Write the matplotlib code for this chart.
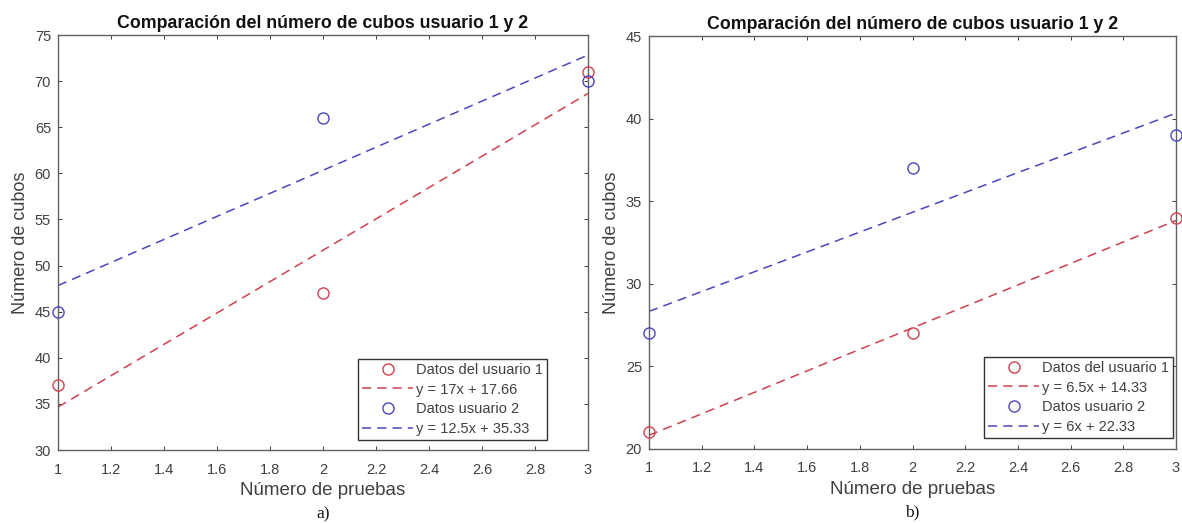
import matplotlib
matplotlib.use("Agg")
import matplotlib.pyplot as plt
import numpy as np

plt.rcParams['font.family'] = ['Liberation Sans', 'DejaVu Sans']

x_trials = [1, 2, 3]
a_user1 = [37, 47, 71]
a_user2 = [45, 66, 70]
a_fit1 = (17, 17.66)
a_fit2 = (12.5, 35.33)
b_user1 = [21, 27, 34]
b_user2 = [27, 37, 39]
b_fit1 = (6.5, 14.33)
b_fit2 = (6, 22.33)

a_labels = ["Datos del usuario 1", "y = 17x + 17.66", "Datos usuario 2", "y = 12.5x + 35.33"]
b_labels = ["Datos del usuario 1", "y = 6.5x + 14.33", "Datos usuario 2", "y = 6x + 22.33"]
xticks = [1, 1.2, 1.4, 1.6, 1.8, 2, 2.2, 2.4, 2.6, 2.8, 3]
xtick_labels = ["1", "1.2", "1.4", "1.6", "1.8", "2", "2.2", "2.4", "2.6", "2.8", "3"]
a_yticks = [30, 35, 40, 45, 50, 55, 60, 65, 70, 75]
b_yticks = [20, 25, 30, 35, 40, 45]

RED = '#d0404f'
BLUE = '#4a45c0'
TXT = '#404040'

W, H = 1182, 523
fig = plt.figure(figsize=(W / 100, H / 100), dpi=100)
ax1 = fig.add_axes([58 / W, 1 - 450 / H, (588 - 58) / W, (450 - 35) / H])
ax2 = fig.add_axes([649 / W, 1 - 449 / H, (1176 - 649) / W, (449 - 36) / H])

def draw(ax, u1, u2, f1, f2, labels, yticks, ylim, sub, leg_corner):
    xs = np.array([1.0, 3.0])
    ax.plot(x_trials, u1, 'o', mfc='none', mec=RED, ms=8, mew=1.0, label=labels[0], clip_on=False, zorder=3)
    ax.plot(xs, f1[0] * xs + f1[1], '--', color=RED, lw=1.1, dashes=(6, 4), label=labels[1])
    ax.plot(x_trials, u2, 'o', mfc='none', mec=BLUE, ms=8, mew=1.0, label=labels[2], clip_on=False, zorder=3)
    ax.plot(xs, f2[0] * xs + f2[1], '--', color=BLUE, lw=1.1, dashes=(6, 4), label=labels[3])
    ax.set_xlim(1, 3)
    ax.set_ylim(*ylim)
    ax.set_xticks(xticks)
    ax.set_xticklabels(xtick_labels)
    ax.set_yticks(yticks)
    ax.tick_params(direction='in', top=True, right=True, labelsize=10.5, colors=TXT, length=3, width=0.7)
    ax.tick_params(axis='x', pad=9)
    ax.tick_params(axis='y', pad=5)
    for s in ax.spines.values():
        s.set_color('#606060')
        s.set_linewidth(1.0)
    ax.set_title("Comparación del número de cubos usuario 1 y 2", fontsize=12.8, fontweight='bold', color='#111111', pad=5)
    ax.set_xlabel("Número de pruebas", fontsize=13.5, color=TXT, labelpad=4)
    ax.set_ylabel("Número de cubos", fontsize=13, color=TXT, labelpad=4)
    leg = ax.legend(loc='lower right', bbox_to_anchor=(leg_corner[0] / W, 1 - leg_corner[1] / H),
                    bbox_transform=fig.transFigure,
                    fontsize=10.5, frameon=True, fancybox=False, edgecolor='#333333',
                    handlelength=3.5, borderpad=0.3, labelspacing=0.38, handletextpad=0.15,
                    borderaxespad=0.0, framealpha=1)
    leg.get_frame().set_linewidth(1.0)
    for t in leg.get_texts():
        t.set_color(TXT)
    ax.text(0.5, (450 - 514) / 415, sub, transform=ax.transAxes, ha='center', va='center', fontsize=12.5,
            family=['Liberation Serif', 'DejaVu Serif'], color='#111111')

draw(ax1, a_user1, a_user2, a_fit1, a_fit2, a_labels, a_yticks, (30, 75), "a)", (547, 440))
draw(ax2, b_user1, b_user2, b_fit1, b_fit2, b_labels, b_yticks, (20, 45), "b)", (1173, 438))

fig.savefig("out.png", dpi=100)
